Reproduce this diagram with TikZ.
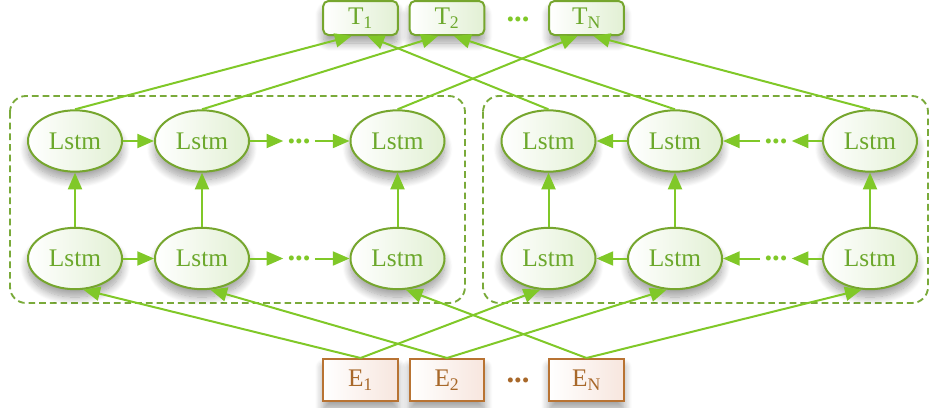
\documentclass[tikz,border=0pt]{standalone}
\usepackage{fontspec}
\setmainfont{Liberation Serif}
\usetikzlibrary{shapes.geometric,arrows.meta,calc,shadows.blur}

\definecolor{conncol}{RGB}{128,200,40}
\definecolor{lstmedge}{RGB}{118,166,46}
\definecolor{lstmtext}{RGB}{108,168,44}
\definecolor{lstmfill}{RGB}{226,240,212}
\definecolor{dashcol}{RGB}{122,170,58}
\definecolor{ebord}{RGB}{184,115,51}
\definecolor{etext}{RGB}{168,104,42}
\definecolor{efill}{RGB}{247,230,222}

\tikzset{
  shade/.style={blur shadow={shadow xshift=0pt, shadow yshift=-6pt,
      shadow blur radius=6pt, shadow blur steps=14, shadow opacity=38}},
  lstm/.style={ellipse, draw=lstmedge, line width=1.5pt, left color=white,
      right color=lstmfill, text=lstmtext, minimum width=70.5pt,
      minimum height=46pt, inner sep=0pt, font=\fontsize{19}{22}\selectfont, shade},
  tbox/.style={rectangle, rounded corners=4pt, draw=lstmedge, line width=1.5pt,
      left color=white, right color=lstmfill, text=lstmtext,
      minimum width=56pt, minimum height=25.5pt, inner sep=0pt,
      font=\fontsize{19}{22}\selectfont, shade},
  ebox/.style={rectangle, draw=ebord, line width=1.5pt, left color=white,
      right color=efill, text=etext, minimum width=56pt, minimum height=31.5pt,
      inner sep=0pt, font=\fontsize{19}{22}\selectfont, shade},
  gdots/.style={text=conncol, font=\fontsize{23}{26}\selectfont\bfseries, inner sep=3pt},
  edots/.style={text=etext, font=\fontsize{23}{26}\selectfont\bfseries, inner sep=3pt},
  conn/.style={draw=conncol, line width=1.5pt, -{Triangle[length=12.5pt,width=10.5pt]}},
  group/.style={draw=dashcol, line width=1.4pt, dash pattern=on 5pt off 3pt,
      rounded corners=12pt},
}

\begin{document}
\begin{tikzpicture}[x=0.75pt,y=-0.75pt]
\useasboundingbox (0,0) rectangle (930,407);

% dashed frames of the two directions
\draw[group] (10,96) rectangle (465,303);
\draw[group] (483,96) rectangle (928,303);

% output tags
\node[tbox] (T1) at (360.5,18) {T\textsubscript{1}};
\node[tbox] (T2) at (447,18) {T\textsubscript{2}};
\node[gdots] (Td) at (518,19) {...};
\node[tbox] (TN) at (586.5,18) {T\textsubscript{N}};

% embeddings
\node[ebox] (E1) at (360.5,380) {E\textsubscript{1}};
\node[ebox] (E2) at (447,380) {E\textsubscript{2}};
\node[edots] (Ed) at (518,380) {...};
\node[ebox] (EN) at (586.5,380) {E\textsubscript{N}};

% forward cells
\node[lstm] (fa1) at (75,141) {Lstm};
\node[lstm] (fa2) at (202,141) {Lstm};
\node[gdots] (fad) at (299,141) {...};
\node[lstm] (fa3) at (397.5,141) {Lstm};
\node[lstm] (fb1) at (75,258.5) {Lstm};
\node[lstm] (fb2) at (202,258.5) {Lstm};
\node[gdots] (fbd) at (299,258.5) {...};
\node[lstm] (fb3) at (397.5,258.5) {Lstm};

% backward cells
\node[lstm] (ba1) at (548.5,141) {Lstm};
\node[lstm] (ba2) at (675,141) {Lstm};
\node[gdots] (bad) at (776,141) {...};
\node[lstm] (ba3) at (870,141) {Lstm};
\node[lstm] (bb1) at (548.5,258.5) {Lstm};
\node[lstm] (bb2) at (675,258.5) {Lstm};
\node[gdots] (bbd) at (776,258.5) {...};
\node[lstm] (bb3) at (870,258.5) {Lstm};

% recurrent links
\foreach \r in {a,b}{
  \draw[conn] (f\r1) -- (f\r2);
  \draw[conn] (f\r2) -- (f\r d);
  \draw[conn] (f\r d) -- (f\r3);
  \draw[conn] (b\r3) -- (b\r d.east);
  \draw[conn] (b\r d.west) -- (b\r2);
  \draw[conn] (b\r2) -- (b\r1);
}

% stacked layers
\foreach \c in {1,2,3}{
  \draw[conn] (fb\c) -- (fa\c);
  \draw[conn] (bb\c) -- (ba\c);
}

% inputs to the lower layer
\draw[conn] (E1.north) -- (fb1.-75);
\draw[conn] (E1.north) -- (bb1.-105);
\draw[conn] (E2.north) -- (fb2.-75);
\draw[conn] (E2.north) -- (bb2.-105);
\draw[conn] (EN.north) -- (fb3.-75);
\draw[conn] (EN.north) -- (bb3.-105);

% upper layer to the tags
\draw[conn] (fa1.north) -- ($(T1.south)+(-9,0)$);
\draw[conn] (ba1.north) -- ($(T1.south)+(7,0)$);
\draw[conn] (fa2.north) -- ($(T2.south)+(-9,0)$);
\draw[conn] (ba2.north) -- ($(T2.south)+(7,0)$);
\draw[conn] (fa3.north) -- ($(TN.south)+(-9,0)$);
\draw[conn] (ba3.north) -- ($(TN.south)+(7,0)$);
\end{tikzpicture}
\end{document}
